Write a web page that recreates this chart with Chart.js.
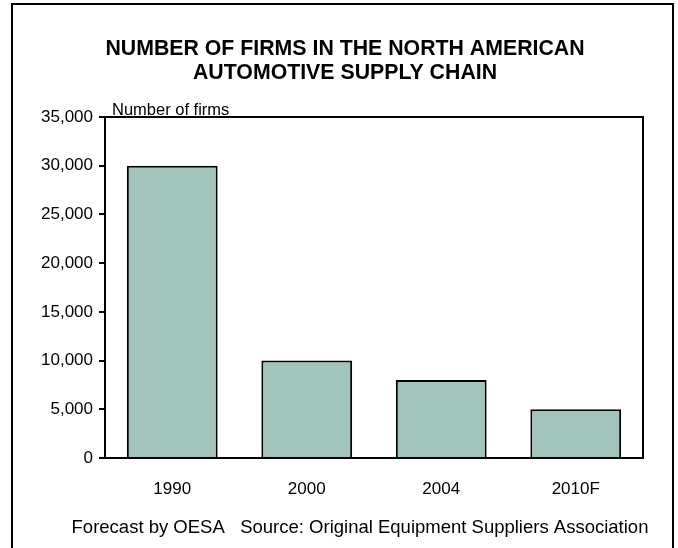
<!DOCTYPE html>
<html lang="en">
<head>
    <meta charset="UTF-8">
    <title>Number of Firms in the North American Automotive Supply Chain</title>
    <script src="https://cdn.jsdelivr.net/npm/chart.js"></script>
    <style>
        body { margin: 0; background: #fff; }
        canvas { display: block; }
    </style>
</head>
<body>
    <canvas id="firmsChart" width="678" height="548"></canvas>

    <script>
        // chart data
        const years = ['1990', '2000', '2004', '2010F'];
        const firmCounts = [30000, 10000, 8000, 5000];
        const titleLines = ['NUMBER OF FIRMS IN THE NORTH AMERICAN', 'AUTOMOTIVE SUPPLY CHAIN'];
        const unitLabel = 'Number of firms';
        const sourceNote = 'Forecast by OESA   Source: Original Equipment Suppliers Association';

        const fontFamily = 'Arial, "Liberation Sans", sans-serif';

        // outer frame, title, source note, plot box and unit label
        const framePlugin = {
            id: 'frame',
            afterDraw(chart) {
                const ctx = chart.ctx;
                const area = chart.chartArea;
                ctx.save();
                ctx.strokeStyle = '#000';
                ctx.lineWidth = 2;
                ctx.strokeRect(12, 4, 661, 600);
                ctx.beginPath();
                ctx.moveTo(area.left, area.top);
                ctx.lineTo(area.right, area.top);
                ctx.lineTo(area.right, area.bottom);
                ctx.stroke();

                ctx.fillStyle = '#000';
                ctx.textAlign = 'center';
                ctx.textBaseline = 'middle';
                ctx.font = 'bold 21.3px ' + fontFamily;
                titleLines.forEach((line, i) => ctx.fillText(line, 345, 49 + i * 24));

                ctx.font = '18.5px ' + fontFamily;
                ctx.fillText(sourceNote, 360, 528);

                ctx.font = '16.5px ' + fontFamily;
                ctx.textBaseline = 'alphabetic';
                ctx.textAlign = 'left';
                ctx.fillText(unitLabel, area.left + 7, area.top - 2);
                ctx.restore();
            }
        };

        let ctx = document.getElementById('firmsChart').getContext('2d');
        let chart = new Chart(ctx, {
            type: 'bar',
            data: {
                labels: years,
                datasets: [{
                    data: firmCounts,
                    backgroundColor: '#a3c4bc',
                    borderColor: '#000',
                    borderWidth: 2,
                    barPercentage: 0.675,
                    categoryPercentage: 1.0
                }]
            },
            options: {
                responsive: false,
                animation: false,
                layout: { padding: { left: 0, right: 35, top: 117, bottom: 40 } },
                plugins: {
                    legend: { display: false },
                    tooltip: { enabled: false },
                    title: { display: false }
                },
                scales: {
                    x: {
                        grid: { drawOnChartArea: false, drawTicks: false },
                        border: { color: '#000', width: 2 },
                        ticks: { color: '#000', font: { family: fontFamily, size: 17 }, padding: 21 },
                        afterFit(scale) { scale.height = 50; }
                    },
                    y: {
                        min: 0,
                        max: 35000,
                        grid: { drawOnChartArea: false, drawTicks: true, tickLength: 6, color: '#000', lineWidth: 2 },
                        border: { color: '#000', width: 2 },
                        ticks: {
                            stepSize: 5000,
                            color: '#000',
                            padding: 6,
                            font: { family: fontFamily, size: 17 },
                            callback: v => v.toLocaleString('en-US')
                        },
                        afterFit(scale) { scale.width = 105; }
                    }
                }
            },
            plugins: [framePlugin]
        });
    </script>
</body>
</html>
